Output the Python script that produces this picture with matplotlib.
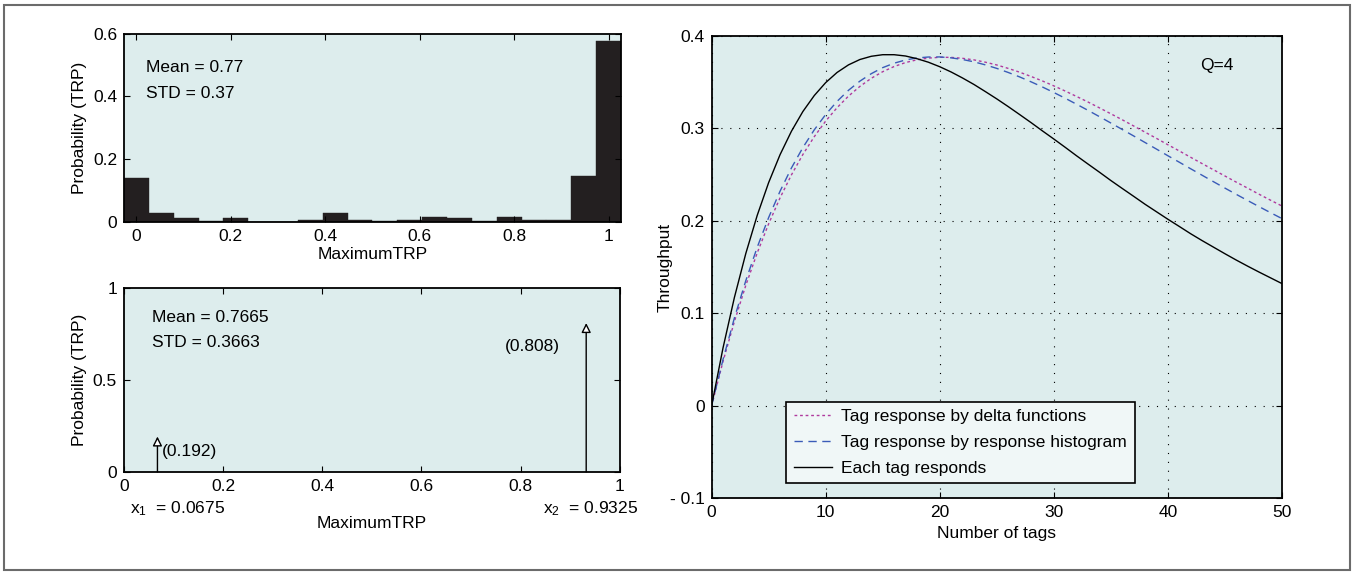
import matplotlib
matplotlib.use("Agg")
import matplotlib.pyplot as plt
from matplotlib.patches import Rectangle

plt.rcParams['font.family'] = ['Liberation Sans', 'DejaVu Sans']
plt.rcParams['font.size'] = 12.5
plt.rcParams['mathtext.default'] = 'regular'

BG = '#ddeded'

# histogram of maximum TRP (20 bins between 0 and 1)
hist_centers = [i / 19 for i in range(20)]
hist_probs = [0.140, 0.028, 0.011, 0.002, 0.011, 0.001, 0.001, 0.006, 0.028, 0.006,
              0.002, 0.006, 0.017, 0.011, 0.002, 0.017, 0.006, 0.006, 0.148, 0.577]

# two-delta approximation
delta_x = [0.0675, 0.9325]
delta_p = [0.192, 0.808]
delta_labels = ['(0.192)', '(0.808)']

# throughput vs number of tags (Q=4)
n_tags = list(range(0, 51))
thr_delta = [0.0, 0.0479, 0.0912, 0.1303, 0.1654, 0.1968, 0.2249, 0.2498, 0.2718, 0.2911,
             0.3080, 0.3225, 0.3350, 0.3455, 0.3543, 0.3614, 0.3670, 0.3713, 0.3743, 0.3761,
             0.3770, 0.3769, 0.3759, 0.3742, 0.3717, 0.3687, 0.3650, 0.3609, 0.3563, 0.3514,
             0.3461, 0.3405, 0.3346, 0.3286, 0.3223, 0.3159, 0.3094, 0.3027, 0.2960, 0.2893,
             0.2824, 0.2757, 0.2688, 0.2620, 0.2553, 0.2486, 0.2419, 0.2354, 0.2288, 0.2224,
             0.2161]
thr_hist = [0.0, 0.0500, 0.0950, 0.1354, 0.1715, 0.2036, 0.2321, 0.2573, 0.2793, 0.2985,
            0.3151, 0.3293, 0.3413, 0.3512, 0.3593, 0.3658, 0.3706, 0.3741, 0.3763, 0.3773,
            0.3774, 0.3764, 0.3746, 0.3721, 0.3688, 0.3650, 0.3606, 0.3558, 0.3505, 0.3449,
            0.3389, 0.3327, 0.3262, 0.3196, 0.3128, 0.3059, 0.2989, 0.2919, 0.2848, 0.2777,
            0.2705, 0.2635, 0.2564, 0.2494, 0.2424, 0.2355, 0.2287, 0.2220, 0.2154, 0.2089,
            0.2025]
thr_each = [0.0, 0.0625, 0.1172, 0.1648, 0.2060, 0.2414, 0.2716, 0.2970, 0.3183, 0.3356,
            0.3496, 0.3606, 0.3688, 0.3746, 0.3781, 0.3798, 0.3798, 0.3784, 0.3755, 0.3717,
            0.3668, 0.3611, 0.3546, 0.3476, 0.3399, 0.3320, 0.3237, 0.3151, 0.3064, 0.2974,
            0.2886, 0.2796, 0.2704, 0.2615, 0.2527, 0.2437, 0.2351, 0.2266, 0.2180, 0.2099,
            0.2018, 0.1940, 0.1861, 0.1787, 0.1716, 0.1645, 0.1576, 0.1510, 0.1446, 0.1384,
            0.1322]


def style(ax):
    ax.set_facecolor(BG)
    for s in ax.spines.values():
        s.set_linewidth(1.3)
    ax.tick_params(direction='in', top=True, right=True, length=4, width=0.8, pad=5)


fig = plt.figure(figsize=(13.58, 5.72), dpi=100)
fig.patches.append(Rectangle((0.003, 0.004), 0.991, 0.988, transform=fig.transFigure,
                             fill=False, edgecolor='#6b6b6b', linewidth=1.5))

# top left: histogram
ax1 = fig.add_axes([0.0913, 0.612, 0.366, 0.329])
style(ax1)
ax1.bar(hist_centers, hist_probs, width=1 / 19, color='#231f20', edgecolor='#231f20', linewidth=0.3)
ax1.set_xlim(-0.5 / 19, 1 + 0.5 / 19)
ax1.set_ylim(0, 0.6)
ax1.set_xticks([0, 0.2, 0.4, 0.6, 0.8, 1])
ax1.set_xticklabels(['0', '0.2', '0.4', '0.6', '0.8', '1'])
ax1.set_yticks([0, 0.2, 0.4, 0.6])
ax1.set_yticklabels(['0', '0.2', '0.4', '0.6'])
ax1.set_xlabel('MaximumTRP', labelpad=2)
ax1.set_ylabel('Probability (TRP)', labelpad=4)
ax1.text(0.045, 0.82, 'Mean = 0.77', transform=ax1.transAxes, va='center')
ax1.text(0.045, 0.68, 'STD = 0.37', transform=ax1.transAxes, va='center')

# bottom left: delta functions
ax2 = fig.add_axes([0.0913, 0.175, 0.365, 0.322])
style(ax2)
ax2.set_xlim(0, 1)
ax2.set_ylim(0, 1)
for x, p in zip(delta_x, delta_p):
    ax2.annotate('', xy=(x, p), xytext=(x, 0),
                 arrowprops=dict(arrowstyle='-|>', color='black', lw=1.0,
                                 mutation_scale=14, fc='white', shrinkA=0, shrinkB=0))
ax2.text(delta_x[0] + 0.008, 0.11, delta_labels[0], va='center', ha='left')
ax2.text(0.88, 0.68, delta_labels[1], va='center', ha='right')
ax2.set_xticks([0, 0.2, 0.4, 0.6, 0.8, 1])
ax2.set_xticklabels(['0', '0.2', '0.4', '0.6', '0.8', '1'])
ax2.set_yticks([0, 0.5, 1])
ax2.set_yticklabels(['0', '0.5', '1'])
ax2.set_xlabel('MaximumTRP', labelpad=16)
ax2.set_ylabel('Probability (TRP)', labelpad=4)
ax2.text(0.056, 0.84, 'Mean = 0.7665', transform=ax2.transAxes, va='center')
ax2.text(0.056, 0.70, 'STD = 0.3663', transform=ax2.transAxes, va='center')
ax2.text(0.012, -0.20, r'$x_1$  = 0.0675', transform=ax2.transAxes, va='center')
ax2.text(0.845, -0.20, r'$x_2$  = 0.9325', transform=ax2.transAxes, va='center')

# right: throughput
ax3 = fig.add_axes([0.524, 0.129, 0.420, 0.808])
style(ax3)
ax3.grid(True, color='black', linestyle=(0, (1, 7)), linewidth=0.8)
ax3.plot(n_tags, thr_delta, color='#b03a9e', linestyle=(0, (2, 2)), linewidth=1.0,
         label='Tag response by delta functions')
ax3.plot(n_tags, thr_hist, color='#3a5bb8', linestyle=(0, (6, 4)), linewidth=1.0,
         label='Tag response by response histogram')
ax3.plot(n_tags, thr_each, color='black', linewidth=1.0, label='Each tag responds')
ax3.set_xlim(0, 50)
ax3.set_ylim(-0.1, 0.4)
ax3.set_xticks([0, 10, 20, 30, 40, 50])
ax3.set_yticks([-0.1, 0, 0.1, 0.2, 0.3, 0.4])
ax3.set_yticklabels(['- 0.1', '0', '0.1', '0.2', '0.3', '0.4'])
ax3.set_xlabel('Number of tags', labelpad=4)
ax3.set_ylabel('Throughput', labelpad=-2)
ax3.text(0.885, 0.937, 'Q=4', transform=ax3.transAxes, ha='center', va='center')
leg = ax3.legend(loc='lower left', bbox_to_anchor=(0.131, 0.032), borderaxespad=0,
                 fancybox=False, framealpha=1, handlelength=2.2, labelspacing=0.6,
                 borderpad=0.45, handletextpad=0.5)
leg.get_frame().set_edgecolor('black')
leg.get_frame().set_facecolor('#f0f7f7')
leg.get_frame().set_linewidth(1.2)

fig.savefig('out.png', dpi=100)
